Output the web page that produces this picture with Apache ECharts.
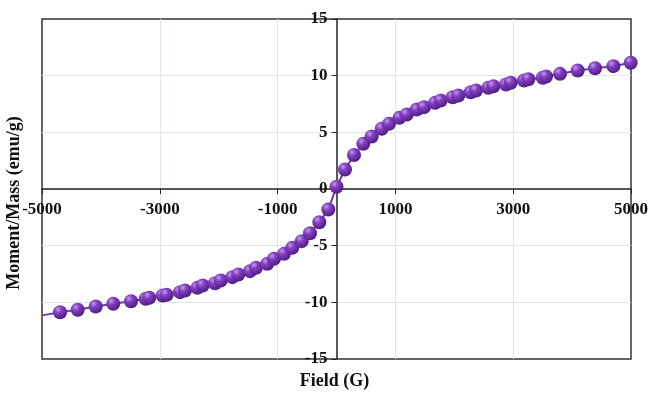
<!DOCTYPE html>
<html>
<head>
<meta charset="utf-8">
<script src="https://cdn.jsdelivr.net/npm/echarts@6/dist/echarts.min.js"></script>
<style>
  html, body { margin: 0; padding: 0; background: #fff; }
  #main { width: 669px; height: 405px; }
</style>
</head>
<body>
<div id="main"></div>
<script>
// field (G) and moment/mass (emu/g)
var fieldVals = [
  -5000, -4694, -4394, -4088, -3790, -3489, -3240, -3179, -2951, -2883,
  -2657, -2572, -2363, -2272, -2063, -1966, -1769, -1667, -1469, -1367,
  -1175, -1061, -891, -750, -591, -450, -292, -139, 0,
  144, 297, 455, 597, 767, 891, 1067, 1192, 1362, 1486,
  1672, 1769, 1973, 2068, 2278, 2368, 2578, 2663, 2878, 2958,
  3183, 3257, 3501, 3557, 3795, 4095, 4389, 4700, 4995
]
var momentVals = [
  -11.15, -10.87, -10.66, -10.37, -10.13, -9.9, -9.69, -9.6, -9.4, -9.34,
  -9.1, -8.96, -8.72, -8.51, -8.31, -8.07, -7.78, -7.54, -7.25, -6.95,
  -6.6, -6.16, -5.72, -5.19, -4.6, -3.9, -2.93, -1.81, 0.2,
  1.72, 3.0, 3.99, 4.63, 5.31, 5.75, 6.28, 6.57, 7.01, 7.22,
  7.6, 7.81, 8.1, 8.25, 8.54, 8.69, 8.93, 9.07, 9.22, 9.37,
  9.57, 9.69, 9.81, 9.93, 10.16, 10.46, 10.66, 10.84, 11.14
]

var chart = echarts.init(document.getElementById('main'))
var serif = '"Liberation Serif", "Times New Roman", serif'

// 第一个点在边界上，不画小球
var pts = fieldVals.map(function (f, i) {
  var p = { value: [f, momentVals[i]] }
  if (i === 0) p.symbolSize = 0
  return p
})

var ball = new echarts.graphic.RadialGradient(0.35, 0.3, 0.75, [
  { offset: 0, color: '#c39bea' },
  { offset: 0.35, color: '#843fc2' },
  { offset: 1, color: '#4a1c7a' }
])

var gridLine = { color: '#dfe4ee', width: 1 }

// 轴线移到原点：grid 区域 42..631 x 19..359
chart.setOption({
  animation: false,
  grid: {
    left: 42, top: 19, right: 38, bottom: 46,
    show: true,
    borderColor: '#333',
    borderWidth: 1.5
  },
  xAxis: {
    type: 'value',
    min: -5000, max: 5000, interval: 2000,
    position: 'bottom',
    offset: -170,
    axisLine: { onZero: false, lineStyle: { color: '#222', width: 1.5 } },
    axisTick: { show: true, length: 5, lineStyle: { color: '#222' } },
    axisLabel: {
      margin: 12,
      fontFamily: serif, fontWeight: 'bold', fontSize: 17, color: '#111',
      showMinLabel: true, showMaxLabel: true,
      formatter: function (v) { return String(v) }
    },
    splitLine: { show: true, showMinLine: false, showMaxLine: false, lineStyle: gridLine }
  },
  yAxis: {
    type: 'value',
    min: -15, max: 15, interval: 5,
    position: 'left',
    offset: -294.5,
    axisLine: { onZero: false, lineStyle: { color: '#222', width: 1.5 } },
    axisTick: { show: true, length: 5, lineStyle: { color: '#222' } },
    axisLabel: {
      margin: 9,
      fontFamily: serif, fontWeight: 'bold', fontSize: 17, color: '#111'
    },
    splitLine: { show: true, showMinLine: false, showMaxLine: false, lineStyle: gridLine }
  },
  graphic: [
    {
      type: 'text', left: 'center', top: 372,
      style: { text: 'Field (G)', font: 'bold 18px ' + serif, fill: '#111' }
    },
    {
      type: 'text', x: 5, y: 203, rotation: Math.PI / 2,
      style: {
        text: 'Moment/Mass (emu/g)', font: 'bold 18px ' + serif, fill: '#111',
        align: 'center', verticalAlign: 'top'
      }
    }
  ],
  series: [{
    type: 'line',
    data: pts,
    symbol: 'circle',
    symbolSize: 14,
    showAllSymbol: true,
    lineStyle: { color: '#7534b0', width: 2 },
    itemStyle: { color: ball, borderWidth: 0 }
  }]
})
</script>
</body>
</html>
